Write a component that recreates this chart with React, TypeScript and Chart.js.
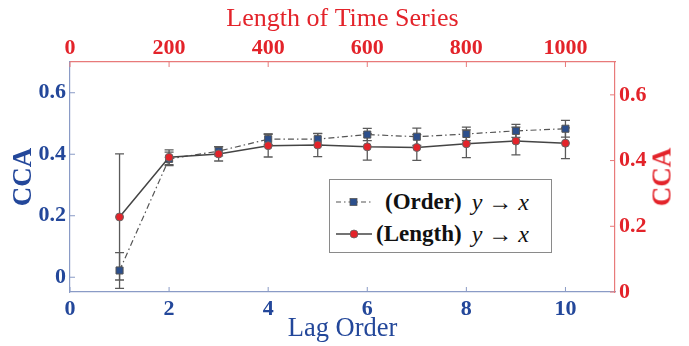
import React, { useEffect, useRef } from 'react';
import { Chart, registerables } from 'chart.js';

Chart.register(...registerables);

// ---- data ----
const lagOrders = [1, 2, 3, 4, 5, 6, 7, 8, 9, 10];
const orderCCA = [0.022, 0.385, 0.41, 0.449, 0.449, 0.464, 0.457, 0.466, 0.476, 0.483];
const orderErr = [0.058, 0.022, 0.015, 0.017, 0.018, 0.02, 0.028, 0.022, 0.021, 0.027];
const lengthCCA = [0.196, 0.39, 0.401, 0.428, 0.43, 0.424, 0.422, 0.434, 0.443, 0.436];
const lengthErr = [0.205, 0.024, 0.023, 0.037, 0.038, 0.043, 0.042, 0.045, 0.045, 0.05];
const lagTicks = [0, 2, 4, 6, 8, 10];
const lengthTicks = [0, 200, 400, 600, 800, 1000];
const ccaTicksLeft = [0, 0.2, 0.4, 0.6];
const ccaTicksRight = [0, 0.2, 0.4, 0.6];

const BLUE = '#23479a';
const RED = '#e3232a';
const BLUE_AXIS = '#8a9bc6';
const RED_AXIS = '#e87a7a';
const SERIF = '"Liberation Serif", "DejaVu Serif", serif';

const errorBarPlugin = {
  id: 'errorBars',
  beforeDatasetsDraw(chart: any) {
    const { ctx } = chart;
    chart.data.datasets.forEach((ds: any, i: number) => {
      const errs: number[] = ds.errors;
      if (!errs) return;
      const meta = chart.getDatasetMeta(i);
      const xs = chart.scales[meta.xAxisID];
      const ys = chart.scales[meta.yAxisID];
      ctx.save();
      ctx.strokeStyle = '#5a5a5a';
      ctx.lineWidth = 1.3;
      ds.data.forEach((p: any, j: number) => {
        const x = xs.getPixelForValue(p.x);
        const y1 = ys.getPixelForValue(p.y + errs[j]);
        const y2 = ys.getPixelForValue(p.y - errs[j]);
        const c = 4.5;
        ctx.beginPath();
        ctx.moveTo(x, y1);
        ctx.lineTo(x, y2);
        ctx.moveTo(x - c, y1);
        ctx.lineTo(x + c, y1);
        ctx.moveTo(x - c, y2);
        ctx.lineTo(x + c, y2);
        ctx.stroke();
      });
      ctx.restore();
    });
  },
};

const inwardTicksPlugin = {
  id: 'inwardTicks',
  afterDatasetsDraw(chart: any) {
    const { ctx, chartArea } = chart;
    const len = 5;
    const defs: [string, string, string][] = [
      ['x', 'bottom', BLUE_AXIS],
      ['x2', 'top', RED_AXIS],
      ['y', 'left', BLUE_AXIS],
      ['y2', 'right', RED_AXIS],
    ];
    ctx.save();
    ctx.lineWidth = 1;
    defs.forEach(([id, side, color]) => {
      const s = chart.scales[id];
      ctx.strokeStyle = color;
      s.ticks.forEach((t: any) => {
        const p = s.getPixelForValue(t.value);
        ctx.beginPath();
        if (side === 'bottom') { ctx.moveTo(p, chartArea.bottom); ctx.lineTo(p, chartArea.bottom - len); }
        if (side === 'top') { ctx.moveTo(p, chartArea.top); ctx.lineTo(p, chartArea.top + len); }
        if (side === 'left') { ctx.moveTo(chartArea.left, p); ctx.lineTo(chartArea.left + len, p); }
        if (side === 'right') { ctx.moveTo(chartArea.right, p); ctx.lineTo(chartArea.right - len, p); }
        ctx.stroke();
      });
    });
    ctx.restore();
  },
};

function LegendSample({ kind }: { kind: 'order' | 'length' }) {
  return (
    <svg width={38} height={14} style={{ display: 'block' }}>
      {kind === 'order' ? (
        <>
          <line x1={1} y1={7} x2={37} y2={7} stroke="#555" strokeWidth={1.2} strokeDasharray="5 3 1.5 3" />
          <rect x={15} y={3.5} width={7} height={7} fill="#2c4f8c" stroke="#555" strokeWidth={0.8} />
        </>
      ) : (
        <>
          <line x1={1} y1={7} x2={37} y2={7} stroke="#444" strokeWidth={1.5} />
          <circle cx={19} cy={7} r={4} fill={RED} stroke="#666" strokeWidth={0.8} />
        </>
      )}
    </svg>
  );
}

export default function App() {
  const ref = useRef<HTMLCanvasElement | null>(null);

  useEffect(() => {
    document.body.style.margin = '0';
    if (!ref.current) return;
    const tickFont = { family: SERIF, size: 22, weight: 'bold' as const };
    const chart = new Chart(ref.current, {
      type: 'scatter',
      data: {
        datasets: [
          {
            label: '(Length) y → x',
            data: lagOrders.map((x, i) => ({ x, y: lengthCCA[i] })),
            errors: lengthErr,
            showLine: true,
            borderColor: '#444',
            borderWidth: 1.5,
            pointStyle: 'circle',
            pointRadius: 4,
            pointBackgroundColor: RED,
            pointBorderColor: '#666',
            pointBorderWidth: 1,
            xAxisID: 'x',
            yAxisID: 'y',
            order: 0,
          } as any,
          {
            label: '(Order) y → x',
            data: lagOrders.map((x, i) => ({ x, y: orderCCA[i] })),
            errors: orderErr,
            showLine: true,
            borderColor: '#555',
            borderWidth: 1.2,
            borderDash: [6, 3, 1.5, 3],
            pointStyle: 'rect',
            pointRadius: 5,
            pointBackgroundColor: '#2c4f8c',
            pointBorderColor: '#555',
            pointBorderWidth: 1,
            xAxisID: 'x',
            yAxisID: 'y',
            order: 1,
          } as any,
        ],
      },
      options: {
        animation: false,
        responsive: false,
        layout: { padding: 0 },
        plugins: { legend: { display: false }, tooltip: { enabled: false } },
        scales: {
          x: {
            type: 'linear',
            position: 'bottom',
            min: 0,
            max: 11,
            afterBuildTicks: (s: any) => { s.ticks = lagTicks.map((v) => ({ value: v })); },
            afterFit: (s: any) => { s.height = 54; },
            grid: { display: false, drawTicks: false },
            border: { display: true, color: BLUE_AXIS, width: 1.2 },
            ticks: { color: BLUE, font: tickFont, padding: 4, callback: (v: any) => String(v) },
            title: { display: true, text: 'Lag Order', color: BLUE, font: { family: SERIF, size: 26.5 }, padding: { top: 0, bottom: 1 } },
          },
          x2: {
            type: 'linear',
            position: 'top',
            min: 0,
            max: 1100,
            afterBuildTicks: (s: any) => { s.ticks = lengthTicks.map((v) => ({ value: v })); },
            afterFit: (s: any) => { s.height = 62; },
            grid: { display: false, drawTicks: false },
            border: { display: true, color: RED_AXIS, width: 1.2 },
            ticks: { color: RED, font: tickFont, padding: 0, callback: (v: any) => String(v) },
            title: { display: true, text: 'Length of Time Series', color: RED, font: { family: SERIF, size: 26 }, padding: { top: 4, bottom: 0 } },
          },
          y: {
            type: 'linear',
            position: 'left',
            min: -0.048,
            max: 0.7,
            afterBuildTicks: (s: any) => { s.ticks = ccaTicksLeft.map((v) => ({ value: v })); },
            afterFit: (s: any) => { s.width = 70; },
            grid: { display: false, drawTicks: false },
            border: { display: true, color: BLUE_AXIS, width: 1.2 },
            ticks: { color: BLUE, font: tickFont, padding: 4, callback: (v: any) => String(v) },
            title: { display: true, text: 'CCA', color: BLUE, font: { family: SERIF, size: 27, weight: 'bold' }, padding: { top: 8, bottom: 0 } },
          },
          y2: {
            type: 'linear',
            position: 'right',
            min: 0,
            max: 0.7,
            afterBuildTicks: (s: any) => { s.ticks = ccaTicksRight.map((v) => ({ value: v })); },
            afterFit: (s: any) => { s.width = 74; },
            grid: { display: false, drawTicks: false },
            border: { display: true, color: RED_AXIS, width: 1.2 },
            ticks: { color: RED, font: tickFont, padding: 4, callback: (v: any) => String(v) },
          },
        },
      } as any,
      plugins: [errorBarPlugin, inwardTicksPlugin],
    });
    return () => chart.destroy();
  }, []);

  const legendText: React.CSSProperties = { fontFamily: SERIF, fontSize: 23, fontWeight: 'bold', color: '#111', whiteSpace: 'nowrap' };
  const mathText: React.CSSProperties = { fontFamily: SERIF, fontSize: 24, fontWeight: 'normal', color: '#111', marginLeft: 10, whiteSpace: 'nowrap' };
  const arrow: React.CSSProperties = { margin: '0 6px' };

  return (
    <div style={{ position: 'relative', width: 689, height: 346, background: '#fff' }}>
      <canvas ref={ref} width={689} height={346} style={{ position: 'absolute', left: 0, top: 0 }} />
      <div
        style={{
          position: 'absolute', left: 662, top: 177, transform: 'translate(-50%, -50%) rotate(-90deg)',
          fontFamily: SERIF, fontSize: 27, fontWeight: 'bold', color: RED, whiteSpace: 'nowrap', lineHeight: 1,
        }}
      >
        CCA
      </div>
      <div
        style={{
          position: 'absolute', left: 329, top: 179, width: 221, height: 72,
          border: '1px solid #8a8a8a', background: '#fff', boxSizing: 'content-box',
        }}
      >
        <div style={{ position: 'absolute', left: 5, top: 5, height: 34, display: 'flex', alignItems: 'center' }}>
          <LegendSample kind="order" />
          <span style={{ ...legendText, marginLeft: 12 }}>(Order)</span>
          <span style={mathText}><i>y</i><span style={arrow}>→</span><i>x</i></span>
        </div>
        <div style={{ position: 'absolute', left: 5, top: 37, height: 34, display: 'flex', alignItems: 'center' }}>
          <LegendSample kind="length" />
          <span style={{ ...legendText, marginLeft: 3 }}>(Length)</span>
          <span style={mathText}><i>y</i><span style={arrow}>→</span><i>x</i></span>
        </div>
      </div>
    </div>
  );
}
